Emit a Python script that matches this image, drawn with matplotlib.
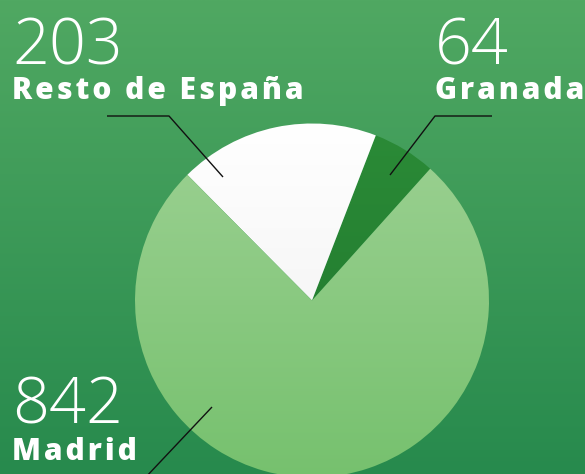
import numpy as np
import matplotlib
matplotlib.use("Agg")
import matplotlib.pyplot as plt
from matplotlib.colors import to_rgb

labels = ["Granada", "Resto de España", "Madrid"]
values = [64, 203, 842]

W, H = 585, 474
fig = plt.figure(figsize=(W / 100, H / 100), dpi=100)
ax = fig.add_axes([0, 0, 1, 1])
ax.set_axis_off()

def vgrad(top, bottom, n=256):
    t = np.linspace(0, 1, n)[:, None]
    a = np.array(to_rgb(top)); b = np.array(to_rgb(bottom))
    return (a * (1 - t) + b * t)[:, None, :].repeat(2, axis=1)

# background gradient
ax.imshow(vgrad("#50a862", "#278a4d"), extent=[0, W, 0, H], aspect="auto", zorder=0)

cx, cy, r = 312, H - 300.5, 177
wedges, _ = ax.pie(values, startangle=48.1, counterclock=True, center=(cx, cy),
                   radius=r, colors=["none"] * 3, wedgeprops=dict(linewidth=0))
grads = [("#2b8b37", "#1e752c"), ("#ffffff", "#eeeeee"), ("#9dd193", "#76c16e")]
for w, (c1, c2) in zip(wedges, grads):
    im = ax.imshow(vgrad(c1, c2), extent=[cx - r, cx + r, cy - r, cy + r],
                   aspect="auto", zorder=1)
    im.set_clip_path(w)

ax.set_xlim(0, W)
ax.set_ylim(0, H)
ax.set_aspect("auto")

# leader lines (pixel coords from top)
def line(pts):
    xs = [p[0] for p in pts]; ys = [H - p[1] for p in pts]
    ax.plot(xs, ys, color="#111111", lw=1.0, zorder=3, solid_capstyle="butt")

line([(107, 116), (169, 116), (223, 177)])
line([(492, 116), (435, 116), (390, 175)])
line([(212, 407), (145, 478)])

num_font = dict(family="Open Sans", weight="light", color="white", fontsize=46.5)
lab_font = dict(family=["Open Sans", "DejaVu Sans"], weight=800, color="white", fontsize=21.5)

HAIR = "\u200a"
texts = [(values[1], labels[1], 12, 64, 99),
         (values[0], labels[0], 435, 64, 99),
         (values[2], labels[2], 12, 424, 460)]
for v, lab, x, yn, yl in texts:
    ax.text(x, H - yn, str(v), ha="left", va="baseline", zorder=4, **num_font)
    ax.text(x, H - yl, HAIR.join(lab), ha="left", va="baseline", zorder=4, **lab_font)

fig.savefig("out.png", dpi=100)
